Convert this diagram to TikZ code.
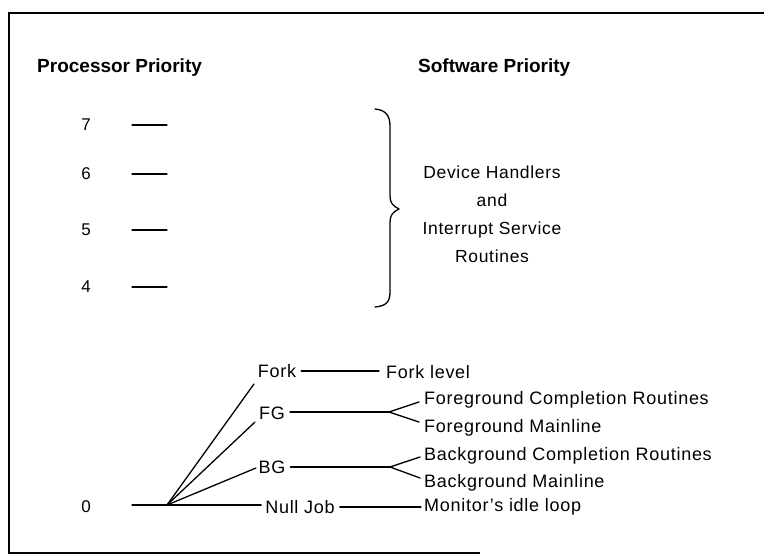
\documentclass[tikz,border=0pt]{standalone}
\usepackage{fontspec}
\setmainfont{Liberation Sans}
\newfontfamily\wide[LetterSpace=4,Ligatures=TeX]{Liberation Sans}
\begin{document}
\begin{tikzpicture}[x=1pt,y=-1pt,
  ln/.style={line width=1.3pt,line cap=round,line join=round},
  frame/.style={line width=2pt},
  lbl/.style={inner sep=0pt,font=\fontsize{17}{20}\selectfont},
  llbl/.style={inner sep=0pt,font=\fontsize{18}{20}\selectfont\wide},
  rlbl/.style={inner sep=0pt,anchor=west,font=\fontsize{18}{20}\selectfont\wide},
  hdr/.style={inner sep=0pt,font=\fontsize{19}{22}\selectfont\bfseries}]
\useasboundingbox (0,0) rectangle (764,556);
% frame
\draw[frame] (764,13) -- (9,13) -- (9,553) -- (480,553);
% headers
\node[hdr,anchor=west] (pp) at (37,68) {Processor Priority};
\node[hdr,anchor=west] (sp) at (418,68) {Software Priority};
% levels
\foreach \n/\y in {7/125,6/174,5/230,4/287}{
  \node[lbl] (n\n) at (86,\y) {\n};
  \coordinate (a\n) at (132,\y);
  \coordinate (b\n) at (167,\y);
  \draw[ln] (a\n) -- (b\n);
}
% brace
\draw[ln] (375,109) .. controls (386,110) and (390,116) .. (390,126) -- (390,196)
  .. controls (390,203) and (393,206) .. (399,209)
  .. controls (393,212) and (390,215) .. (390,222) -- (390,292)
  .. controls (390,302) and (386,306) .. (375,307);
\node[lbl,align=center,font=\fontsize{17.5}{28}\selectfont\wide] (dh) at (492,214)
  {Device Handlers\\and\\Interrupt Service\\Routines};
% lower part
\node[lbl] (z) at (86,507) {0};
\coordinate (z0) at (132,505);
\coordinate (j) at (167,505);
\node[llbl] (fork) at (277,371) {Fork};
\node[llbl] (fg) at (272,413) {FG};
\node[llbl] (bg) at (272,467) {BG};
\node[llbl] (nj) at (300,507) {Null Job};
\coordinate (fe) at (254,384);
\coordinate (ge) at (255,422);
\coordinate (be) at (256,468);
\draw[ln] (z0) -- (j);
\draw[ln] (j) -- (fe);
\draw[ln] (j) -- (ge);
\draw[ln] (j) -- (be);
\draw[ln] (j) -- ([xshift=-4pt]nj.west |- j);
% right labels
\node[rlbl] (fl) at (386,372) {Fork level};
\node[rlbl] (fcr) at (424,400) {Foreground Completion Routines};
\node[rlbl] (fm) at (424,428) {Foreground Mainline};
\node[rlbl] (bcr) at (424,456) {Background Completion Routines};
\node[rlbl] (bm) at (424,483) {Background Mainline};
\node[rlbl] (mil) at (424,507) {Monitor’s idle loop};
% connectors
\draw[ln] ([xshift=5pt]fork.east) -- ([xshift=-7pt]fl.west |- fork.east);
\coordinate (ft) at (389,412);
\coordinate (bt) at (390,467);
\draw[ln] ([xshift=5pt]fg.east |- ft) -- (ft);
\draw[ln] (ft) -- (419,402);
\draw[ln] (ft) -- (419,422);
\draw[ln] ([xshift=5pt]bg.east |- bt) -- (bt);
\draw[ln] (bt) -- (420,457);
\draw[ln] (bt) -- (420,478);
\draw[ln] ([xshift=5pt]nj.east) -- ([xshift=-3pt]mil.west |- nj.east);
\end{tikzpicture}
\end{document}
